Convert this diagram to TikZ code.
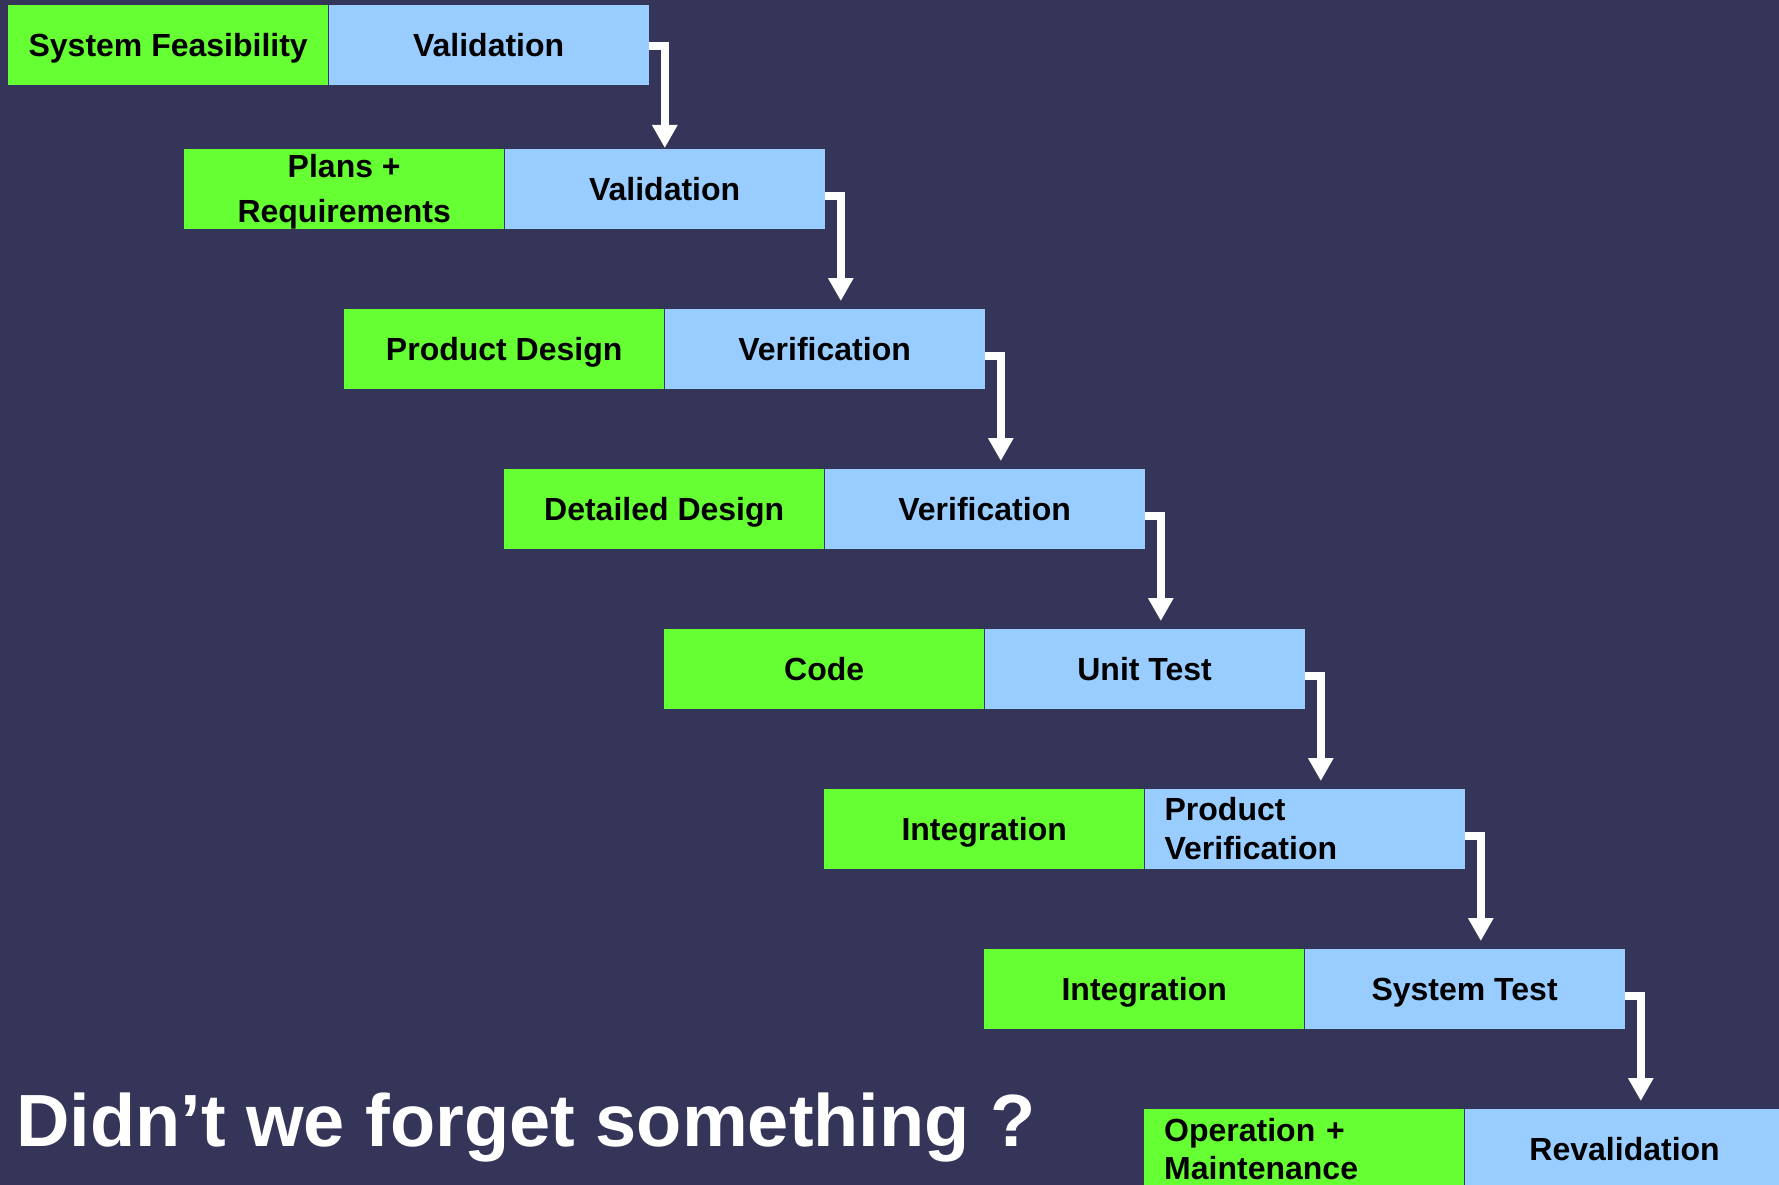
\documentclass[tikz,border=0pt]{standalone}
\usepackage{fontspec}
\setmainfont{Liberation Sans}
\usetikzlibrary{arrows.meta,calc}
\definecolor{bg}{RGB}{53,53,90}
\definecolor{phase}{RGB}{102,255,51}
\definecolor{check}{RGB}{153,204,255}
\begin{document}
\begin{tikzpicture}[x=1pt,y=-1pt,
  cell/.style={minimum width=320pt, minimum height=79.4pt, inner sep=0pt,
    text depth=0pt, font=\fontsize{32}{38}\selectfont\bfseries, text=black},
  phasebox/.style={cell, fill=phase, anchor=north west},
  checkbox/.style={cell, fill=check, anchor=west},
  leftset/.style={align=left, text width=280pt, inner xsep=20pt, text depth=},
  flow/.style={draw=white, line width=8pt, miter limit=10,
    -{Triangle[width=24pt,length=23pt]}}]
% canvas
\fill[bg] (0,0) rectangle (1779,1185);
\useasboundingbox (0,0) rectangle (1779,1185);

% phases and their checks
\node[phasebox] (g1) at (8,5) {System Feasibility};
\node[checkbox] (b1) at (g1.east) {Validation};

\node[phasebox, align=center, font=\fontsize{32}{45}\selectfont\bfseries] (g2) at (184,149) {Plans +\\Requirements};
\node[checkbox] (b2) at (g2.east) {Validation};

\node[phasebox] (g3) at (344,309) {Product Design};
\node[checkbox] (b3) at (g3.east) {Verification};

\node[phasebox] (g4) at (504,469) {Detailed Design};
\node[checkbox] (b4) at (g4.east) {Verification};

\node[phasebox] (g5) at (664,629) {Code};
\node[checkbox] (b5) at (g5.east) {Unit Test};

\node[phasebox] (g6) at (824,789) {Integration};
\node[checkbox, leftset, font=\fontsize{32}{39}\selectfont\bfseries] (b6) at (g6.east) {Product\\Verification};

\node[phasebox] (g7) at (984,949) {Integration};
\node[checkbox] (b7) at (g7.east) {System Test};

\node[phasebox, leftset, font=\fontsize{32}{38}\selectfont\bfseries] (g8) at (1144,1109) {Operation +\\Maintenance};
\node[checkbox] (b8) at (g8.east) {Revalidation};

% waterfall connectors
\draw[flow] ($(b1.east)+(0,1)$) -| ($(b1.east |- b2.north)+(16,-1)$);
\foreach \a/\b in {2/3,3/4,4/5,5/6,6/7,7/8}{
  \draw[flow] ($(b\a.east)+(0,7)$) -| ($(b\a.east |- b\b.north)+(16,-8)$);
}

% closing question
\node[anchor=base west, inner sep=0pt, text=white,
  font=\fontsize{74}{80}\selectfont\bfseries] (q) at (16,1146) {Didn’t we forget something ?};
\end{tikzpicture}
\end{document}
